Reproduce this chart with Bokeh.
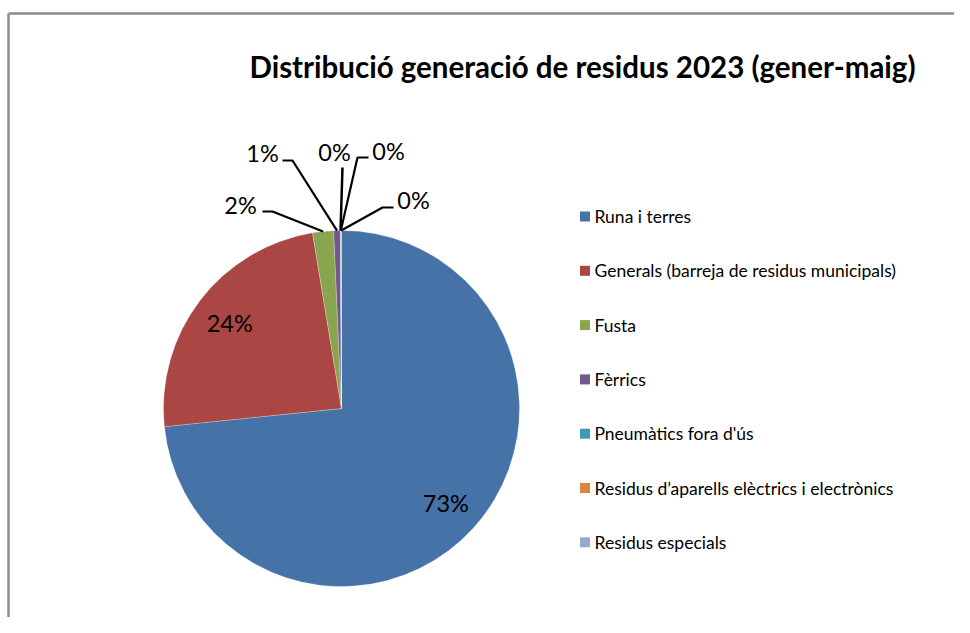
import numpy as np
from bokeh.plotting import figure
from bokeh.models import Range1d, ColumnDataSource
from bokeh.core.properties import value
from bokeh.embed import file_html
from bokeh.resources import INLINE

title = "Distribució generació de residus 2023 (gener-maig)"
categories = [
    "Runa i terres",
    "Generals (barreja de residus municipals)",
    "Fusta",
    "Fèrrics",
    "Pneumàtics fora d'ús",
    "Residus d’aparells elèctrics i electrònics",
    "Residus especials",
]
shares = [73.3, 24.0, 1.9, 0.6, 0.03, 0.02, 0.05]
colors = ["#4572A7", "#AA4643", "#89A54E", "#71588F", "#4198AF", "#DB843D", "#93A9CF"]

W, H = 954, 617
FONT = "Lato"

def px(x):  # screen x -> data x
    return x

def py(y):  # screen y -> data y
    return H - y

p = figure(width=W, height=H, output_backend="svg", toolbar_location=None,
           x_range=Range1d(0, W), y_range=Range1d(0, H), min_border=0)
p.axis.visible = False
p.grid.visible = False
p.outline_line_color = None
p.background_fill_color = "white"

# chart-area border (top and left visible)
p.line([px(8), px(8)], [py(13), 0], line_color="#8c8c8c", line_width=2.5)
p.line([px(8), W], [py(13), py(13)], line_color="#8c8c8c", line_width=2.5)

# pie
cx, cy, R = px(341), py(408), 178
vals = np.array(shares, dtype=float)
frac = vals / vals.sum()
cum = np.concatenate([[0], np.cumsum(frac)])
start = np.pi / 2 - cum[1:] * 2 * np.pi
end = np.pi / 2 - cum[:-1] * 2 * np.pi
src = ColumnDataSource(dict(start=start, end=end, color=colors))
p.wedge(x=cx, y=cy, radius=R, start_angle="start", end_angle="end",
        fill_color="color", line_color="white", line_width=0.4, line_alpha=0.6, source=src)

mid = (start + end) / 2
labels = [f"{round(v)}%" for v in frac * 100]
LFS = "23.5px"

# inside labels
for i in (0, 1):
    r = 0.79 * R
    p.text(x=[cx + r * np.cos(mid[i])], y=[cy + r * np.sin(mid[i])], text=[labels[i]],
           text_font=value(FONT), text_font_size=LFS, text_color="black",
           text_align="center", text_baseline="middle")

# outside labels with leader lines: (label center), (bend), (elbow end) in screen px
outside = {
    2: ((240, 204), (272, 211), (262, 211)),
    3: ((262, 152), (292, 160), (282, 160)),
    4: ((334, 151), (342, 167), (342, 167)),
    5: ((388, 150), (357, 157), (368, 157)),
    6: ((413, 199), (382, 207), (393, 207)),
}
for i, (lab, bend, elb) in outside.items():
    ax = cx + R * np.cos(mid[i])
    ay = cy + R * np.sin(mid[i])
    p.line([ax, px(bend[0]), px(elb[0])], [ay, py(bend[1]), py(elb[1])],
           line_color="black", line_width=2.5 if i == 4 else 2.2)
    p.text(x=[px(lab[0])], y=[py(lab[1])], text=[labels[i]],
           text_font=value(FONT), text_font_size=LFS, text_color="black",
           text_align="center", text_baseline="middle")

# title
p.text(x=[px(582)], y=[py(66)], text=[title], text_font=value(FONT),
       text_font_size="29.5px", text_font_style="bold", text_color="black",
       text_align="center", text_baseline="middle")

# legend
row0, step = 216, 54.3
ys = [py(row0 + k * step) for k in range(len(categories))]
p.rect(x=[px(584.5)] * len(categories), y=ys, width=10, height=10,
       fill_color=colors, line_color=None)
p.text(x=[px(594)] * len(categories), y=ys, text=categories, text_font=value(FONT),
       text_font_size="17.5px", text_color="black", text_align="left", text_baseline="middle")

open("out.html", "w").write(file_html(p, INLINE))
